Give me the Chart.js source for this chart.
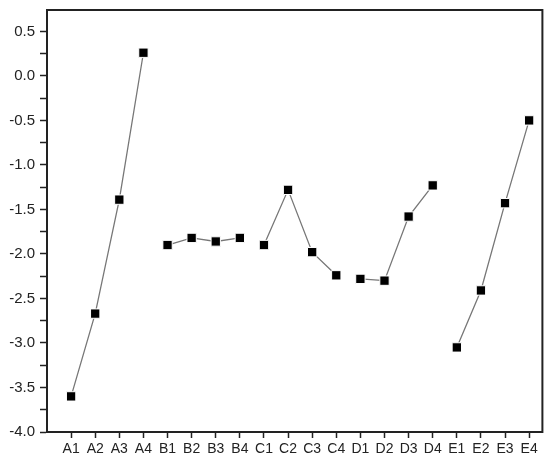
<!DOCTYPE html>
<html>
<head>
<meta charset="utf-8">
<script src="https://cdn.jsdelivr.net/npm/chart.js@4/dist/chart.umd.min.js"></script>
<style>
  html, body { margin: 0; padding: 0; background: #fff; }
  #wrap { width: 550px; height: 461px; position: relative; }
</style>
</head>
<body>
<div id="wrap"><canvas id="grafico"></canvas></div>
<script>
// categorias do eixo x
const categorias = ["A1","A2","A3","A4","B1","B2","B3","B4","C1","C2","C3","C4","D1","D2","D3","D4","E1","E2","E3","E4"];
// grupo de cada ponto (linhas só ligam pontos do mesmo grupo)
const grupos = ["A","A","A","A","B","B","B","B","C","C","C","C","D","D","D","D","E","E","E","E"];
// valores
const valores = [-3.60, -2.67, -1.39, 0.26, -1.90, -1.82, -1.86, -1.82, -1.90, -1.28, -1.98, -2.24, -2.28, -2.30, -1.58, -1.23, -3.05, -2.41, -1.43, -0.50];
// ticks do eixo y
const ticksY = [-4.0,-3.75,-3.5,-3.25,-3.0,-2.75,-2.5,-2.25,-2.0,-1.75,-1.5,-1.25,-1.0,-0.75,-0.5,-0.25,0.0,0.25,0.5];

const nomesGrupos = [...new Set(grupos)];
const datasets = nomesGrupos.map((g) => ({
  label: g,
  data: categorias
    .map((c, i) => ({ x: i + 1, y: valores[i], g: grupos[i] }))
    .filter((p) => p.g === g),
  borderColor: "#777",
  borderWidth: 1.3,
  pointStyle: "rect",
  pointRadius: 6.6,
  pointBackgroundColor: "#000",
  pointBorderColor: "#fff",
  pointBorderWidth: 1,
  tension: 0,
}));

// moldura (topo e direita)
const moldura = {
  id: "moldura",
  afterDraw(chart) {
    const { ctx, chartArea: a } = chart;
    ctx.save();
    ctx.strokeStyle = "#222";
    ctx.lineWidth = 2;
    ctx.strokeRect(a.left, a.top, a.right - a.left, a.bottom - a.top);
    ctx.restore();
  },
};

const familia = "'Liberation Sans', Arial, sans-serif";

new Chart(document.getElementById("grafico"), {
  type: "line",
  data: { datasets },
  options: {
    responsive: true,
    maintainAspectRatio: false,
    animation: false,
    layout: { padding: { top: 0, right: 7, left: 0, bottom: 0 } },
    plugins: { legend: { display: false }, tooltip: { enabled: false } },
    scales: {
      x: {
        type: "linear",
        min: 0,
        max: 20.55,
        afterBuildTicks: (s) => { s.ticks = categorias.map((c, i) => ({ value: i + 1 })); },
        afterFit: (s) => { s.height = 29; },
        grid: { drawOnChartArea: false, tickLength: 6, tickColor: "#222", tickWidth: 1.5 },
        border: { color: "#222", width: 2 },
        ticks: {
          color: "#222",
          font: { family: familia, size: 14 },
          padding: 3,
          maxRotation: 0,
          autoSkip: false,
          callback: (v) => categorias[v - 1] || "",
        },
      },
      y: {
        min: -4.0,
        max: 0.74,
        afterBuildTicks: (s) => { s.ticks = ticksY.map((v) => ({ value: v })); },
        afterFit: (s) => { s.width = 47; s.paddingTop = 10; },
        grid: { drawOnChartArea: false, tickLength: 7, tickColor: "#222", tickWidth: 1.5 },
        border: { color: "#222", width: 2 },
        ticks: {
          color: "#222",
          font: { family: familia, size: 15 },
          padding: 5,
          autoSkip: false,
          callback: (v) => (Math.abs(v * 2 - Math.round(v * 2)) < 1e-6 ? v.toFixed(1) : ""),
        },
      },
    },
  },
  plugins: [moldura],
});
</script>
</body>
</html>
